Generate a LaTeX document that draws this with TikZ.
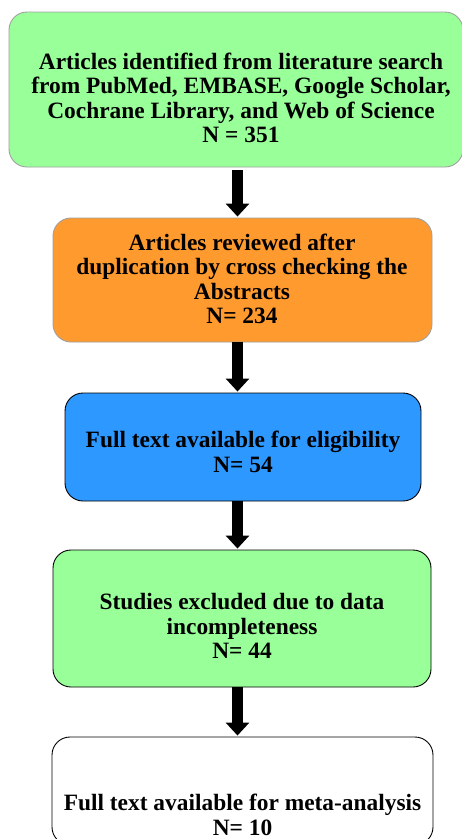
\documentclass[tikz,border=0pt]{standalone}
\usepackage{fontspec}
\setmainfont{Liberation Serif}
\usetikzlibrary{arrows.meta,calc}
\definecolor{boxgreen}{RGB}{153,255,153}
\definecolor{boxorange}{RGB}{255,154,46}
\definecolor{boxblue}{RGB}{45,152,255}
\definecolor{softgray}{RGB}{160,160,160}
\tikzset{
  boxshape/.style={rectangle, rounded corners=18pt, line width=0.9pt, inner sep=0pt},
  txt/.style={align=center, font=\fontsize{23.4}{24.5}\selectfont\bfseries, inner sep=0pt},
  blockarrow/.style={line width=11pt, -{Triangle[width=23pt,length=13pt]}},
}
\begin{document}
\begin{tikzpicture}[x=1pt,y=-1pt]
\useasboundingbox (0,0) rectangle (462,839);
\clip (0,0) rectangle (462,839);
\coordinate (ax) at (237.5,0);
\node[boxshape, draw=softgray, fill=boxgreen, minimum width=454pt, minimum height=155pt] (b1) at (236,89.5) {};
\node[boxshape, draw=softgray, fill=boxorange, minimum width=379pt, minimum height=124pt] (b2) at (242.5,280) {};
\node[boxshape, draw=black, fill=boxblue, minimum width=356pt, minimum height=108pt] (b3) at (243,447) {};
\node[boxshape, draw=black, fill=boxgreen, minimum width=378pt, minimum height=137pt] (b4) at (242,618.5) {};
\node[boxshape, draw=black, fill=white, minimum width=381pt, minimum height=108pt] (b5) at (242.5,791) {};
\node[txt] (t1) at (241,98) {Articles identified from literature search\\from PubMed, EMBASE, Google Scholar,\\Cochrane Library, and Web of Science\\N = 351};
\node[txt] (t2) at (242,279) {Articles reviewed after\\duplication by cross checking the\\Abstracts\\N= 234};
\node[txt] (t3) at (243,452) {Full text available for eligibility\\N= 54};
\node[txt] (t4) at (242,626) {Studies excluded due to data\\incompleteness\\N= 44};
\node[txt] (t5) at (242.5,815) {Full text available for meta-analysis\\N= 10};
\draw[blockarrow] (b1.south -| ax) ++(0,3) -- ($(b2.north -| ax)+(0,-1)$);
\draw[blockarrow] (b2.south -| ax) -- ($(b3.north -| ax)+(0,-1)$);
\draw[blockarrow] (b3.south -| ax) -- ($(b4.north -| ax)+(0,-1)$);
\draw[blockarrow] (b4.south -| ax) -- ($(b5.north -| ax)+(0,-1)$);
\end{tikzpicture}
\end{document}
